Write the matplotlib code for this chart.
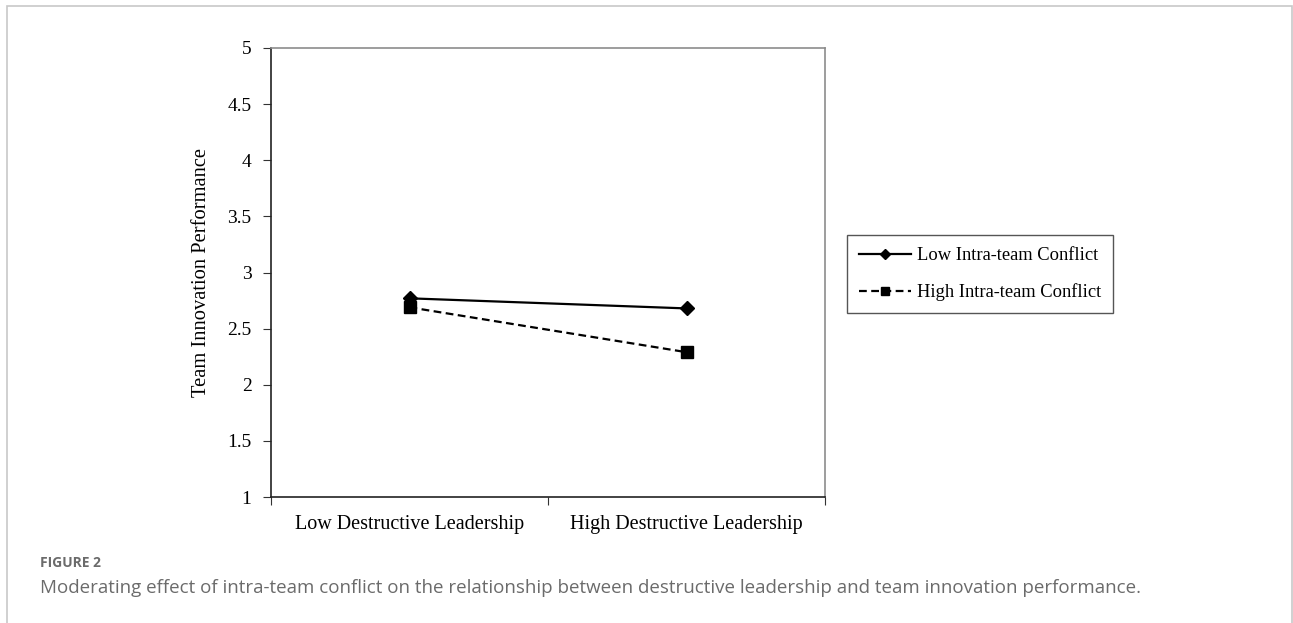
import matplotlib
matplotlib.use("Agg")
import matplotlib.pyplot as plt
from matplotlib.patches import Rectangle

# data
categories = ["Low Destructive Leadership", "High Destructive Leadership"]
low_conflict = [2.77, 2.68]
high_conflict = [2.69, 2.29]
y_ticks = [1, 1.5, 2, 2.5, 3, 3.5, 4, 4.5, 5]
y_tick_labels = ["1", "1.5", "2", "2.5", "3", "3.5", "4", "4.5", "5"]

W, H = 1293, 623
fig = plt.figure(figsize=(W / 100, H / 100), dpi=100)
fig.patch.set_facecolor("white")

# card border of the page
fig.patches.append(Rectangle((7 / W, -0.1), (1292 - 7) / W, 1.1 - 6 / H,
                             transform=fig.transFigure, fill=False,
                             edgecolor="#c8c8c8", linewidth=1.2))

# axes: left 271, right 825, top 48, bottom 497 (pixels)
ax = fig.add_axes([271 / W, 1 - 497 / H, (825 - 271) / W, (497 - 48) / H])

serif = ["Liberation Serif", "DejaVu Serif"]
x = [0.5, 1.5]
ax.plot(x, low_conflict, color="black", linestyle="-", linewidth=1.6,
        marker="D", markersize=7, label="Low Intra-team Conflict")
ax.plot(x, high_conflict, color="black", linestyle=(0, (3.5, 2)), linewidth=1.6,
        marker="s", markersize=8, label="High Intra-team Conflict")

ax.set_xlim(0, 2)
ax.set_ylim(1, 5)
ax.set_yticks(y_ticks)
ax.set_yticklabels(y_tick_labels, fontfamily=serif, fontsize=14)
ax.set_xticks([0, 1, 2])
ax.set_xticklabels([])
ax.set_xticks(x, minor=True)
ax.set_xticklabels(categories, minor=True, fontfamily=serif, fontsize=14.5)
ax.tick_params(axis="x", which="minor", length=0, pad=13)
ax.tick_params(axis="x", which="major", length=6, direction="out", color="#333333")
ax.tick_params(axis="y", length=6, direction="out", pad=8, color="#333333")

ax.spines["left"].set_color("#222222")
ax.spines["bottom"].set_color("#222222")
ax.spines["top"].set_color("#8c8c8c")
ax.spines["right"].set_color("#8c8c8c")
for s in ax.spines.values():
    s.set_linewidth(1.2)

ax.set_ylabel("Team Innovation Performance", fontfamily=serif, fontsize=14.8, labelpad=12)

leg = ax.legend(loc="upper left", bbox_to_anchor=(847 / W, 1 - 235 / H),
                bbox_transform=fig.transFigure, prop={"family": serif, "size": 13.3},
                frameon=True, fancybox=False, edgecolor="#555555", framealpha=1,
                handlelength=2.8, handletextpad=0.32, borderpad=0.65,
                labelspacing=1.05, markerscale=0.7, borderaxespad=0)
leg.get_frame().set_linewidth(1.0)

sans = ["Open Sans", "DejaVu Sans"]
fig.text(40 / W, 1 - 563 / H, "FIGURE 2", fontfamily=sans, fontsize=10,
         fontweight="bold", color="#6b6b6b", va="center")
fig.text(40 / W, 1 - 588 / H,
         "Moderating effect of intra-team conflict on the relationship between "
         "destructive leadership and team innovation performance.",
         fontfamily=sans, fontsize=13.5, color="#6b6b6b", va="center")

fig.savefig("out.png", dpi=100)
